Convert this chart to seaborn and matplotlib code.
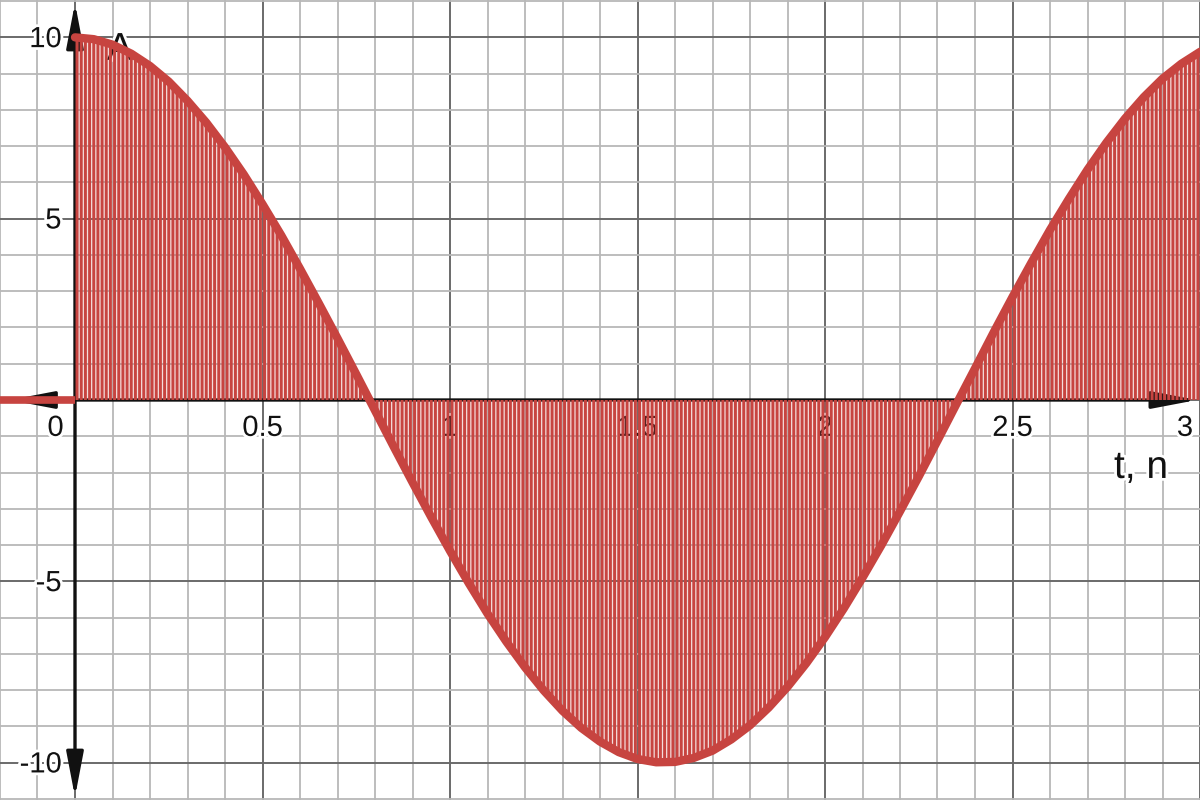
import numpy as np
import pandas as pd
import matplotlib
matplotlib.use("Agg")
import matplotlib.pyplot as plt
import seaborn as sns
from matplotlib import patheffects as pe
from matplotlib.ticker import MultipleLocator

# ---- data ----
t_values = [0.00, 0.05, 0.10, 0.15, 0.20, 0.25, 0.30, 0.35, 0.40, 0.45,
            0.50, 0.55, 0.60, 0.65, 0.70, 0.75, 0.80, 0.85, 0.90, 0.95,
            1.00, 1.05, 1.10, 1.15, 1.20, 1.25, 1.30, 1.35, 1.40, 1.45,
            1.50, 1.55, 1.60, 1.65, 1.70, 1.75, 1.80, 1.85, 1.90, 1.95,
            2.00, 2.05, 2.10, 2.15, 2.20, 2.25, 2.30, 2.35, 2.40, 2.45,
            2.50, 2.55, 2.60, 2.65, 2.70, 2.75, 2.80, 2.85, 2.90, 2.95,
            3.00, 3.05, 3.10]
amplitude_values = [10.00, 9.95, 9.80, 9.55, 9.21, 8.78, 8.25, 7.65, 6.97, 6.22,
                    5.40, 4.54, 3.62, 2.67, 1.70, 0.71, -0.29, -1.29, -2.27, -3.23,
                    -4.16, -5.05, -5.89, -6.66, -7.37, -8.01, -8.57, -9.04, -9.42, -9.71,
                    -9.90, -9.99, -9.98, -9.87, -9.67, -9.36, -8.97, -8.48, -7.91, -7.26,
                    -6.54, -5.75, -4.90, -4.01, -3.07, -2.11, -1.12, -0.12, 0.87, 1.87,
                    2.84, 3.78, 4.69, 5.54, 6.35, 7.09, 7.76, 8.35, 8.86, 9.27,
                    9.60, 9.83, 9.97]
t_before = [-0.2, 0.0]
amplitude_before = [0.0, 0.0]

x_tick_values = [0.5, 1.0, 1.5, 2.0, 2.5, 3.0]
x_tick_labels = ["0.5", "1", "1.5", "2", "2.5", "3"]
y_tick_values = [10, 5, -5, -10]
y_tick_labels = ["10", "5", "-5", "-10"]
x_axis_label = "t, n"
y_axis_label = "A"

RED = "#c74440"

sns.set_theme(style="white")
plt.rcParams["font.family"] = ["Liberation Sans", "DejaVu Sans"]
plt.rcParams["hatch.linewidth"] = 2.1

fig = plt.figure(figsize=(12, 8), dpi=100)
ax = fig.add_axes([0, 0, 1, 1])
XMIN, XMAX, YMIN, YMAX = -0.2, 3.0, -11.03, 11.03
ax.set_xlim(XMIN, XMAX)
ax.set_ylim(YMIN, YMAX)

# grid
ax.xaxis.set_major_locator(MultipleLocator(0.5))
ax.xaxis.set_minor_locator(MultipleLocator(0.1))
ax.yaxis.set_major_locator(MultipleLocator(5))
ax.yaxis.set_minor_locator(MultipleLocator(1))
ax.tick_params(which="both", length=0, labelbottom=False, labelleft=False)
ax.grid(which="minor", color="#b8b8b8", lw=1.3)
ax.grid(which="major", color="#6a6a6a", lw=1.4)
ax.set_axisbelow(True)
for s in ax.spines.values():
    s.set_visible(False)

halo = [pe.withStroke(linewidth=4, foreground="white")]
FS = 21

# tick labels
ax.text(-0.052, -0.99, "0", fontsize=FS, ha="center", va="baseline",
        color="#111", path_effects=halo, zorder=1)
for xv, lab in zip(x_tick_values, x_tick_labels):
    xx = xv
    if xv == x_tick_values[-1]:
        xx = 2.96
    ax.text(xx, -0.99, lab, fontsize=FS, ha="center", va="baseline",
            color="#111", path_effects=halo, zorder=1)
for yv, lab in zip(y_tick_values, y_tick_labels):
    ax.text(-0.036, yv - 0.27, lab, fontsize=FS, ha="right", va="baseline",
            color="#111", path_effects=halo, zorder=1)

# axis labels
ax.text(2.915, -2.15, x_axis_label, fontsize=28, ha="right", va="baseline",
        color="#111", path_effects=halo, zorder=1)
ax.text(0.085, 9.38, y_axis_label, fontsize=28, ha="left", va="baseline",
        color="#111", path_effects=halo, zorder=1)

# axes with arrows
arrow_kw = dict(arrowstyle="<|-|>,head_length=1.05,head_width=0.2",
                mutation_scale=26, lw=2.4, color="#111111",
                shrinkA=0, shrinkB=0)
ax.annotate("", xy=(0, 10.95), xytext=(0, -10.95), arrowprops=arrow_kw, zorder=1.5)
ax.annotate("", xy=(2.992, 0), xytext=(-0.175, 0), arrowprops=arrow_kw, zorder=1.5)

# hatched area between curve and axis
ax.fill_between(t_values, amplitude_values, 0,
                facecolor=(0.78, 0.27, 0.25, 0.18), edgecolor=RED,
                hatch="||||", linewidth=0, zorder=2)

# curve
sns.lineplot(x=t_before, y=amplitude_before, ax=ax, color=RED, lw=5.5,
             sort=False, zorder=4, solid_capstyle="butt")
sns.lineplot(x=t_values, y=amplitude_values, ax=ax, color=RED, lw=6,
             sort=False, zorder=4, solid_capstyle="round")

ax.set_xlabel("")
ax.set_ylabel("")
fig.savefig("out.png", dpi=100)
